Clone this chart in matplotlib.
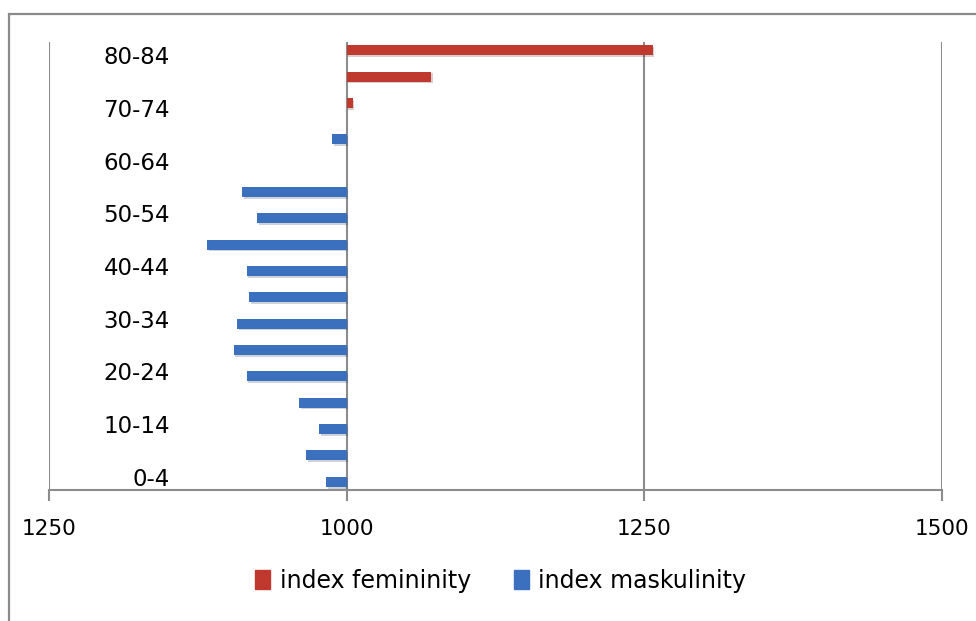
import matplotlib
matplotlib.use("Agg")
import matplotlib.pyplot as plt
from matplotlib.patches import Rectangle, Patch
import matplotlib.patheffects as pe
import numpy as np

categories = ["0-4", "5-9", "10-14", "15-19", "20-24", "25-29", "30-34", "35-39",
              "40-44", "45-49", "50-54", "55-59", "60-64", "65-69", "70-74", "75-79", "80-84"]
# index femininity (women per 1000 men), only where women outnumber men
femininity = [None, None, None, None, None, None, None, None,
              None, None, None, None, None, None, 1005, 1071, 1257]
# index maskulinity (men per 1000 women), only where men outnumber women
maskulinity = [1017, 1034, 1023, 1040, 1084, 1095, 1092, 1082,
               1084, 1117, 1075, 1088, 1000, 1012, None, None, None]
xtick_pos = [750, 1000, 1250, 1500]
xtick_labels = ["1250", "1000", "1250", "1500"]
shown_labels = ["0-4", "10-14", "20-24", "30-34", "40-44", "50-54", "60-64", "70-74", "80-84"]

red = "#C0392F"
blue = "#3A70BE"
grid_c = "#8C8C8C"

fig = plt.figure(figsize=(9.76, 6.21), dpi=100)
fig.patches.append(Rectangle((8.5/976, -0.1), 1.2, 1.1 - 14/621,
                             transform=fig.transFigure, fill=False,
                             edgecolor="#8A8A8A", linewidth=1.6, zorder=0))

ax = fig.add_axes([49/976, 1 - 490/621, (942 - 49)/976, (490 - 42)/621])
y = np.arange(len(categories))
h = 0.38
shadow = [pe.SimplePatchShadow(offset=(1.2, -1.2), alpha=0.2), pe.Normal()]

for i, v in enumerate(femininity):
    if v is not None:
        ax.barh(y[i] + h/2, v - 1000, left=1000, height=h, color=red,
                zorder=3, path_effects=shadow)
for i, v in enumerate(maskulinity):
    if v is not None and v != 1000:
        ax.barh(y[i] - h/2, -(v - 1000), left=1000, height=h, color=blue,
                zorder=3, path_effects=shadow)

ax.set_xlim(750, 1500)
ax.set_ylim(-0.5, len(categories) - 0.5)
ax.set_xticks(xtick_pos)
ax.set_xticklabels(xtick_labels, fontsize=15.5)
ax.tick_params(axis="x", length=8, width=1.5, color=grid_c, pad=13)
for xp in xtick_pos:
    ax.axvline(xp, color=grid_c, linewidth=1.5, zorder=1)

ypos = [categories.index(c) for c in shown_labels]
ax.set_yticks(ypos)
ax.set_yticklabels(shown_labels, fontsize=16.5)
ax.tick_params(axis="y", length=0, pad=-87)
for lab in ax.get_yticklabels():
    lab.set_horizontalalignment("right")

for s in ["top", "right", "left"]:
    ax.spines[s].set_visible(False)
ax.spines["bottom"].set_color(grid_c)
ax.spines["bottom"].set_linewidth(1.5)

handles = [Patch(color=red, label="index femininity"),
           Patch(color=blue, label="index maskulinity")]
fig.legend(handles=handles, loc="center", bbox_to_anchor=(0.513, 1 - 581/621),
           ncol=2, frameon=False, fontsize=17, handlelength=0.65, handleheight=0.85,
           handletextpad=0.4, columnspacing=1.8)

fig.savefig("out.png", dpi=100)
